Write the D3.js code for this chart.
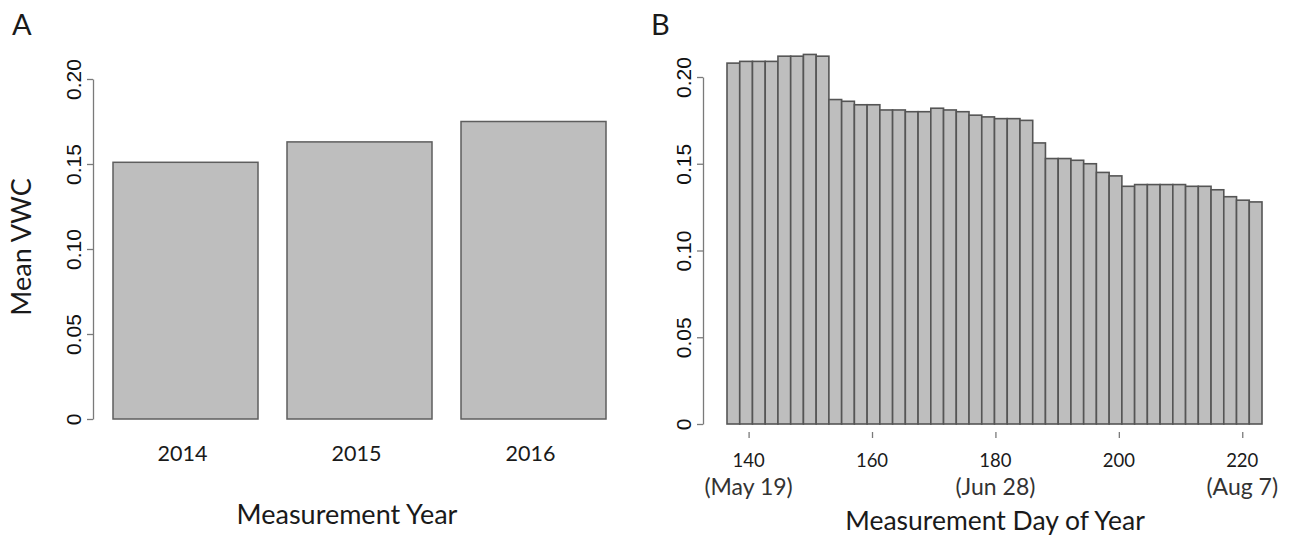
<!DOCTYPE html>
<html>
<head>
<meta charset="utf-8">
<script src="https://cdn.jsdelivr.net/npm/d3@7"></script>
<style>
  body { margin: 0; background: #fff; }
  svg { display: block; }
  .lab { font-family: Lato, "Open Sans", sans-serif; fill: #1a1a1a; }
  .tk text { font-family: "Liberation Sans", Arial, sans-serif; fill: #111; }
  .tk line, .tk path { stroke: #7a7a7a; stroke-width: 1.3; }
</style>
</head>
<body>
<svg id="fig" width="1290" height="539"></svg>
<script>
(function () {
    'use strict';

    // panel A: mean VWC by year
    var years = ["2014", "2015", "2016"];
    var yearVWC = [0.151, 0.163, 0.175];

    var days = [137, 139, 141, 143, 145, 147, 149, 151, 153, 155, 157, 159, 161, 163,
                165, 167, 169, 171, 173, 175, 177, 179, 181, 183, 185, 187, 189, 191,
                193, 195, 197, 199, 201, 203, 205, 207, 209, 211, 213, 215, 217, 219];
    var dayVWC = [0.208, 0.209, 0.209, 0.209, 0.212, 0.212, 0.213, 0.212, 0.187, 0.186,
                  0.184, 0.184, 0.181, 0.181, 0.180, 0.180, 0.182, 0.181, 0.180, 0.178,
                  0.177, 0.176, 0.176, 0.175, 0.162, 0.153, 0.153, 0.152, 0.150, 0.145,
                  0.143, 0.137, 0.138, 0.138, 0.138, 0.138, 0.137, 0.137, 0.135, 0.131,
                  0.129, 0.128];
    var dayTicks = [140, 160, 180, 200, 220];
    var dateLabels = ["(May 19)", "", "(Jun 28)", "", "(Aug 7)"];
    var dayExtent = [136.5, 223.2];   // where the day axis sits under the bars
    var vwcTicks = [0, 0.05, 0.10, 0.15, 0.20];

    var svg = d3.select("#fig");
    var fmt = function (d) { return d === 0 ? "0" : d3.format(".2f")(d); };

    // rotate R-style left axis labels
    function leftAxis(g, scale) {
        g.attr("class", "tk")
            .call(d3.axisLeft(scale).tickValues(vwcTicks).tickFormat(fmt)
                .tickSize(6).tickSizeOuter(0));
        g.selectAll("text")
            .attr("transform", "rotate(-90)")
            .attr("x", 0).attr("y", -12).attr("dy", 0)
            .style("text-anchor", "middle")
            .style("font-size", "21px");
    }

    // ---------- panel A ----------
    var xA = d3.scaleBand().domain(years).range([113, 606]).paddingInner(0.2 / 1.2).paddingOuter(0);
    var yA = d3.scaleLinear().domain([0, 0.2]).range([419, 79]);

    svg.append("g").selectAll("rect")
        .data(years)
      .enter().append("rect")
        .attr("x", d => xA(d))
        .attr("y", (d, i) => yA(yearVWC[i]))
        .attr("width", xA.bandwidth())
        .attr("height", (d, i) => yA(0) - yA(yearVWC[i]))
        .style("fill", "#bebebe")
        .style("stroke", "#5e5e5e")
        .style("stroke-width", "1.5px");

    leftAxis(svg.append("g").attr("transform", "translate(93,0)"), yA);

    svg.append("g").selectAll("text")
        .data(years)
      .enter().append("text")
        .attr("class", "lab")
        .attr("x", d => xA(d) + xA.bandwidth() / 2 - 3)
        .attr("y", 461)
        .attr("text-anchor", "middle")
        .style("font-size", "21.5px")
        .text(d => d);

    svg.append("text").attr("class", "lab")
        .attr("x", 347).attr("y", 524)
        .attr("text-anchor", "middle").style("font-size", "27px")
        .text("Measurement Year");

    svg.append("text").attr("class", "lab")
        .attr("transform", "translate(31,247) rotate(-90)")
        .attr("text-anchor", "middle").style("font-size", "27px")
        .text("Mean VWC");

    svg.append("text").attr("class", "lab")
        .attr("x", 12).attr("y", 35).style("font-size", "29px")
        .text("A");

    // ---------- panel B ----------
    var xB = d3.scaleBand().domain(days).range([727, 1262]).padding(0);
    var dayX = d3.scaleLinear().domain(dayExtent).range(xB.range());
    var yB = d3.scaleLinear().domain([0, 0.2]).range([424, 77]);

    svg.append("g").selectAll("rect")
        .data(days)
      .enter().append("rect")
        .attr("x", d => xB(d))
        .attr("y", (d, i) => yB(dayVWC[i]))
        .attr("width", xB.bandwidth())
        .attr("height", (d, i) => yB(0) - yB(dayVWC[i]))
        .style("fill", "#bebebe")
        .style("stroke", "#555")
        .style("stroke-width", "1.6px");

    leftAxis(svg.append("g").attr("transform", "translate(703,0)"), yB);

    var xAxisB = svg.append("g").attr("class", "tk")
        .attr("transform", "translate(0,432)")
        .call(d3.axisBottom(dayX).tickValues(dayTicks).tickSize(6).tickSizeOuter(0));
    xAxisB.select(".domain").remove();
    xAxisB.selectAll("text").remove();

    svg.append("g").selectAll("text")
        .data(dayTicks)
      .enter().append("text")
        .attr("class", "lab")
        .attr("x", d => dayX(d))
        .attr("y", 467)
        .attr("text-anchor", "middle")
        .style("font-size", "18.5px")
        .text(d => d);

    svg.append("g").selectAll("text")
        .data(dayTicks)
      .enter().append("text")
        .attr("class", "lab")
        .attr("x", d => dayX(d))
        .attr("y", 495)
        .attr("text-anchor", "middle")
        .style("font-size", "23px")
        .style("fill", "#333")
        .text((d, i) => dateLabels[i]);

    svg.append("text").attr("class", "lab")
        .attr("x", 995).attr("y", 530)
        .attr("text-anchor", "middle").style("font-size", "26.5px")
        .text("Measurement Day of Year");

    svg.append("text").attr("class", "lab")
        .attr("x", 651).attr("y", 35).style("font-size", "29px")
        .text("B");
}());
</script>
</body>
</html>
